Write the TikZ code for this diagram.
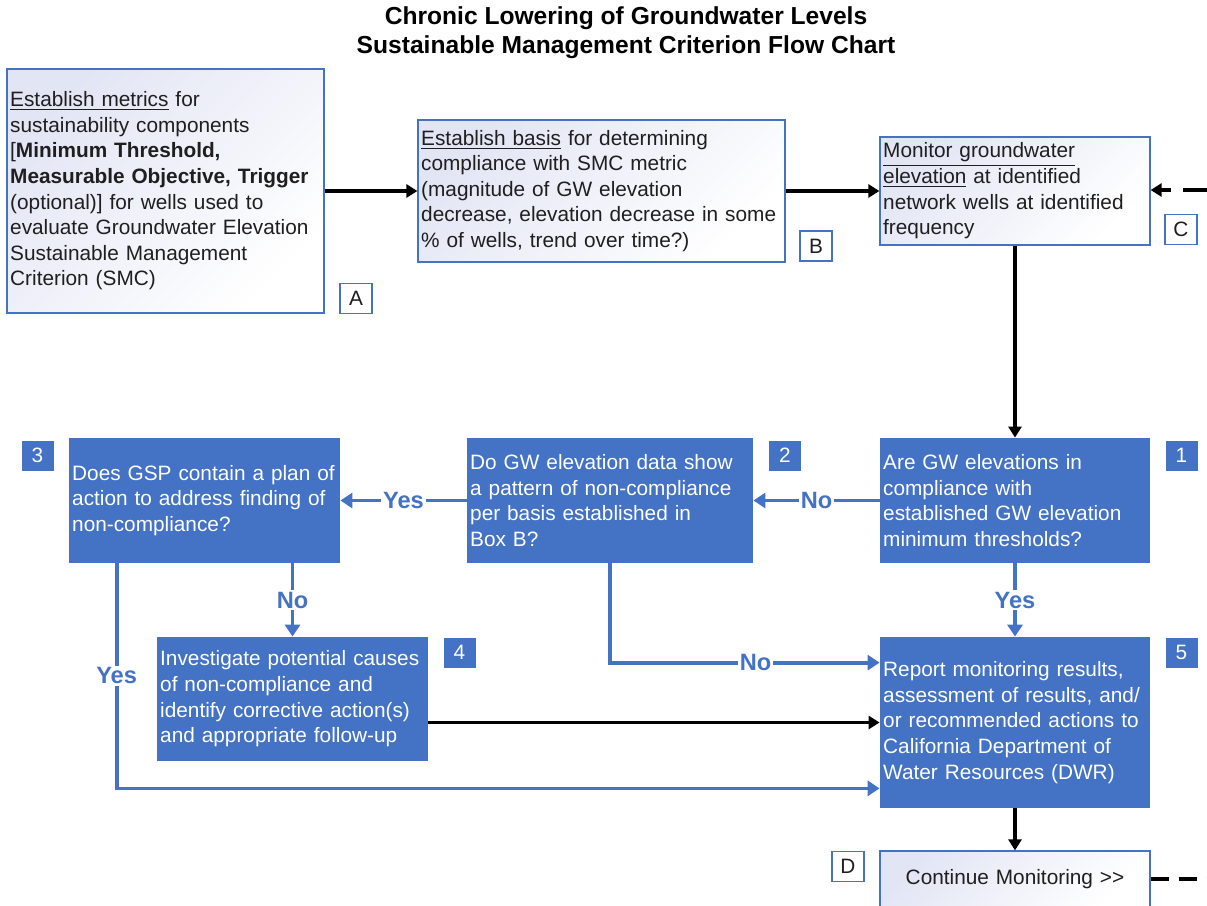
\documentclass[tikz,border=0pt]{standalone}
\usepackage{fontspec}
\setmainfont{Liberation Sans}
\usetikzlibrary{arrows.meta, positioning, calc}
\definecolor{gblue}{HTML}{4472C4}
\definecolor{gshade}{HTML}{E2E5F4}
\definecolor{gtext}{HTML}{1F1F1F}
\newcommand{\bodyfont}{\fontsize{10.4}{12.8}\selectfont}
\begin{document}
\begin{tikzpicture}[
  x=0.5pt, y=-0.5pt,
  >=Stealth,
  font=\bodyfont,
  % Node styles
  wbox/.style = {rectangle, draw=gblue, line width=0.6pt,
                 top color=gshade, bottom color=white, shading angle=45,
                 text=gtext, align=left, inner xsep=1.6pt, inner ysep=0pt},
  bbox/.style = {rectangle, fill=gblue, text=white, align=left,
                 inner xsep=1.6pt, inner ysep=0pt},
  wtag/.style = {rectangle, draw=gblue, line width=0.6pt, fill=white,
                 text=gtext, minimum width=16pt, minimum height=15pt, inner sep=0pt},
  btag/.style = {rectangle, fill=gblue, text=white,
                 minimum width=16pt, minimum height=15pt, inner sep=0pt},
  ans/.style  = {fill=white, text=gblue, inner sep=1pt,
                 font=\fontsize{11.8}{12}\selectfont\bfseries},
  % Arrow styles
  blk/.style  = {-{Triangle[length=5.5pt,width=6.5pt]}, line width=1.9pt, black},
  blu/.style  = {-{Triangle[length=6pt,width=7.5pt]}, line width=1.9pt, gblue},
  dsh/.style  = {line width=1.9pt, black, dash pattern=on 12pt off 6pt},
  dshb/.style = {line width=1.9pt, black, dash pattern=on 9pt off 5pt}
]
\useasboundingbox (0,0) rectangle (1207,906);

% =========================== TITLE ===========================
\node[font=\fontsize{12.3}{14.5}\selectfont\bfseries, align=center] (title) at (626,33)
  {Chronic Lowering of Groundwater Levels\\Sustainable Management Criterion Flow Chart};

% =========================== SETUP ROW (A, B, C) ===========================
\node[wbox, text width=155.3pt, minimum height=122pt] (estM) at (165.5,191)
  {\underline{Establish metrics} for\\
   sustainability components\\
   {[}\textbf{Minimum Threshold,}\\
   \textbf{Measurable Objective, Trigger}\\
   (optional)] for wells used to\\
   evaluate Groundwater Elevation\\
   Sustainable Management\\
   Criterion (SMC)};
\node[wbox, text width=180.3pt, minimum height=71pt] (basis) at (601.5,191)
  {\underline{Establish basis} for determining\\
   compliance with SMC metric\\
   (magnitude of GW elevation\\
   decrease, elevation decrease in some\\
   \% of wells, trend over time?)};
\node[wbox, text width=131.8pt, minimum height=54pt] (mon) at (1015,191)
  {\underline{Monitor groundwater}\\
   \underline{elevation} at identified\\
   network wells at identified\\
   frequency};

\node[wtag] (tagA) at (356,298.5) {A};
\node[wtag] (tagB) at (816,246)   {B};
\node[wtag] (tagC) at (1181,229.5) {C};

% =========================== DECISION ROW (1, 2, 3) ===========================
\node[bbox, text width=131.8pt, minimum height=62.5pt] (q1) at (1015,500.5)
  {Are GW elevations in\\
   compliance with\\
   established GW elevation\\
   minimum thresholds?};
\node[bbox, text width=139.8pt, minimum height=62.5pt] (q2) at (610,500.5)
  {Do GW elevation data show\\
   a pattern of non-compliance\\
   per basis established in\\
   Box B?};
\node[bbox, text width=132.3pt, minimum height=62.5pt] (q3) at (204.5,500.5)
  {Does GSP contain a plan of\\
   action to address finding of\\
   non-compliance?};

\node[btag] (tag1) at (1181.5,455.5) {1};
\node[btag] (tag2) at (785,455.5)    {2};
\node[btag] (tag3) at (37.5,455.5)   {3};

% =========================== ACTION ROW (4, 5, D) ===========================
\node[bbox, text width=132.3pt, minimum height=62pt] (inv) at (292.5,699)
  {Investigate potential causes\\
   of non-compliance and\\
   identify corrective action(s)\\
   and appropriate follow-up};
\node[bbox, text width=131.8pt, minimum height=85.5pt] (rep) at (1015,722.5)
  {Report monitoring results,\\
   assessment of results, and/\\
   or recommended actions to\\
   California Department of\\
   Water Resources (DWR)};
\node[wbox, align=center, text width=131.8pt, minimum height=28pt] (cont) at (1015,879)
  {Continue Monitoring >{}>};

\node[btag] (tag4) at (459.5,652.5)  {4};
\node[btag] (tag5) at (1181.5,652.5) {5};
\node[wtag] (tagD) at (848,866.5)    {D};

% =========================== CONNECTORS ===========================
\coordinate (inC)  at (1207,190);
\coordinate (outD) at (1207,879);

\draw[blk] (estM) -- (basis);
\draw[blk] (basis) -- (mon);
\draw[dsh, -{Triangle[length=5.5pt,width=6.5pt]}] (inC) -- (inC -| mon.east);
\draw[blk] (mon) -- (q1);

\draw[blu] (q1) -- node[ans]{No} (q2);
\draw[blu] (q2) -- node[ans]{Yes} (q3);
\draw[blu] (q1) -- node[ans]{Yes} (rep);
\draw[blu] (inv.north |- q3.south) -- node[ans]{No} (inv.north);
\draw[blu] (q2.south) |- node[ans, pos=0.77]{No} ([yshift=-13pt]rep.north west);
\draw[blk] (rep.west -| inv.east) -- (rep.west);
\draw[blu] ([xshift=24pt]q3.south west) |- node[ans, pos=0.25]{Yes} ([yshift=10pt]rep.south west);

\draw[blk] (rep) -- (cont);
\draw[dshb] (cont) -- (outD);

\end{tikzpicture}
\end{document}
